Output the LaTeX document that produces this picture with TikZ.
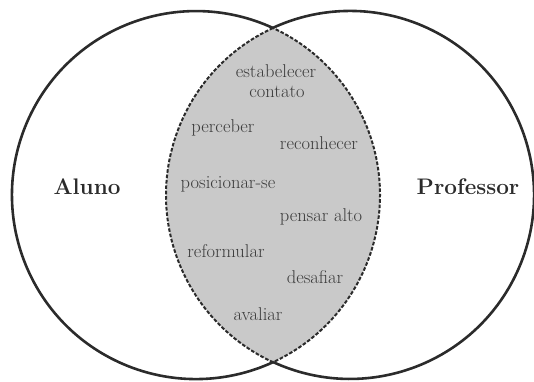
\documentclass[tikz,border=0pt]{standalone}
\definecolor{lensgray}{HTML}{C9C9C9}
\definecolor{wordgray}{HTML}{3C3C3C}
\definecolor{linegray}{HTML}{2B2B2B}
\begin{document}
\begin{tikzpicture}
  [x=1pt, y=1pt,
   word/.style={text=wordgray, anchor=base, align=center,
     font=\fontsize{18.5}{20}\selectfont},
   side/.style={text=linegray, anchor=base, font=\fontsize{22.5}{24}\selectfont\bfseries}]
    \useasboundingbox (0,0) rectangle (534,-381);
    \coordinate (top) at (273,-28);
    \coordinate (bot) at (273,-362);
    % shaded lens
    \fill[lensgray] (top) arc[start angle=114.75, end angle=245.25, radius=184]
      arc[start angle=-65.25, end angle=65.25, radius=184];
    \draw[linegray, line width=2pt, dash pattern=on 3.6pt off 1.8pt]
      (top) arc[start angle=114.75, end angle=245.25, radius=184]
      arc[start angle=-65.25, end angle=65.25, radius=184];
    % outer arcs
    \draw[linegray, line width=2.6pt] (top) arc[start angle=65.25, end angle=294.75, radius=184];
    \draw[linegray, line width=2.6pt] (bot) arc[start angle=-114.75, end angle=114.75, radius=184];
    \foreach \name/\x/\y/\txt in {est/276/77/estabelecer, con/277/97/contato,
                  per/223/132/perceber, rec/319/149/reconhecer,
                  pos/228/188/posicionar-se, pen/321/221/pensar alto,
                  ref/226/257/reformular, des/315/283/desafiar,
                  ava/258/320/avaliar}{
      \node[word] (\name) at (\x,-\y) {\txt};}
    \node[side] (aluno) at (87,-194) {Aluno};
    \node[side] (prof) at (468,-194) {Professor};
  \end{tikzpicture}
\end{document}
